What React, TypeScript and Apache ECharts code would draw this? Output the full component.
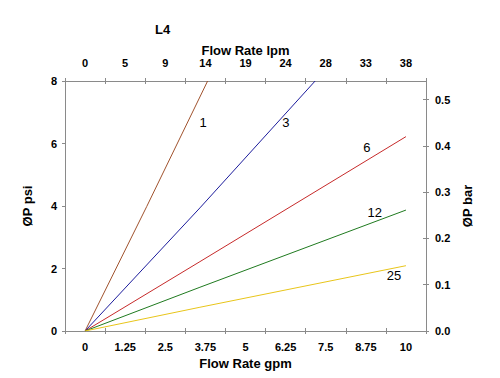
import React, { useEffect, useRef } from "react";
import * as echarts from "echarts";

const bottomTicks = ["0", "1.25", "2.5", "3.75", "5", "6.25", "7.5", "8.75", "10"];
const topTicks = ["0", "5", "9", "14", "19", "24", "28", "33", "38"];

const seriesNames = ["1", "3", "6", "12", "25"];
const seriesColors = ["#A0522D", "#1C1C9C", "#C62A2A", "#1F7A1F", "#E8C51A"];
const s1: number[][] = [[0, 0], [1.92, 3.98], [3.82, 8.0]];
const s3: number[][] = [[0, 0], [3.58, 3.94], [7.17, 8.0]];
const s6: number[][] = [[0, 0], [3.58, 2.22], [10, 6.22]];
const s12: number[][] = [[0, 0], [3.58, 1.4], [10, 3.87]];
const s25: number[][] = [[0, 0], [3.58, 0.76], [10, 2.09]];
const seriesData = [s1, s3, s6, s12, s25];
const labelPos: number[][] = [[3.68, 6.66], [6.26, 6.66], [8.78, 5.86], [9.03, 3.78], [9.63, 1.79]];

const AX = "#8a8a8a";
const FONT = "Liberation Sans, Arial, sans-serif";

export default function App() {
  const ref = useRef<HTMLDivElement>(null);
  useEffect(() => {
    document.body.style.margin = "0";
    const chart = echarts.init(ref.current!, null, { renderer: "svg" });
    const lbl = { color: "#000", fontWeight: "bold" as const, fontSize: 11, fontFamily: FONT };
    const catAxis = (pos: string, data: string[], withLabels: boolean, inside: boolean, extra: any = {}) => ({
      type: "category",
      position: pos,
      data,
      boundaryGap: true,
      axisLine: { show: withLabels, onZero: false, lineStyle: { color: AX } },
      axisTick: { show: true, inside, length: 3, lineStyle: { color: AX } },
      axisLabel: { show: withLabels, ...lbl, margin: 10, interval: 0 },
      splitLine: { show: false },
      ...extra,
    });
    chart.setOption({
      animation: false,
      backgroundColor: "#fff",
      title: {
        text: "L4",
        left: 150,
        top: 18,
        textStyle: { fontSize: 13, fontWeight: "bold", color: "#000", fontFamily: FONT },
      },
      grid: { left: 65, right: 74, top: 81, bottom: 47 },
      xAxis: [
        { type: "value", min: -0.625, max: 10.625, show: false, axisLine: { onZero: false } },
        catAxis("bottom", bottomTicks, true, false, {
          name: "Flow Rate gpm",
          nameLocation: "middle",
          nameGap: 24,
          nameTextStyle: { fontSize: 13, fontWeight: "bold", color: "#000", fontFamily: FONT },
        }),
        catAxis("bottom", bottomTicks, false, true),
        catAxis("top", topTicks, true, true, {
          axisLabel: { show: true, ...lbl, margin: 13, interval: 0 },
          name: "Flow Rate lpm",
          nameLocation: "middle",
          nameGap: 24,
          nameMoveOverlap: false,
          nameTextStyle: { fontSize: 13, fontWeight: "bold", color: "#000", fontFamily: FONT },
        }),
        catAxis("top", topTicks, false, false),
      ],
      yAxis: [
        {
          type: "value",
          position: "left",
          min: 0,
          max: 8,
          interval: 2,
          axisLine: { show: true, onZero: false, lineStyle: { color: AX } },
          axisTick: { show: true, length: 3, lineStyle: { color: AX } },
          axisLabel: { ...lbl, margin: 8 },
          splitLine: { show: false },
          name: "ØP psi",
          nameLocation: "middle",
          nameRotate: 90,
          nameGap: 31,
          nameTextStyle: { fontSize: 13, fontWeight: "bold", color: "#000", fontFamily: FONT },
        },
        {
          type: "value",
          position: "right",
          min: 0,
          max: 0.54,
          interval: 0.1,
          axisLine: { show: true, onZero: false, lineStyle: { color: AX } },
          axisTick: { show: true, length: 3, lineStyle: { color: AX } },
          axisLabel: { ...lbl, margin: 9, showMaxLabel: false, formatter: (v: number) => v.toFixed(1) },
          splitLine: { show: false },
          name: "ØP bar",
          nameLocation: "middle",
          nameRotate: 90,
          nameGap: 30,
          nameTextStyle: { fontSize: 13, fontWeight: "bold", color: "#000", fontFamily: FONT },
        },
        {
          type: "value",
          position: "right",
          min: 0,
          max: 0.54,
          interval: 0.1,
          axisLine: { show: false, onZero: false },
          axisTick: { show: true, inside: true, length: 3, lineStyle: { color: AX } },
          axisLabel: { show: false, showMaxLabel: false },
          splitLine: { show: false },
        },
      ],
      series: seriesNames.map((n, i) => ({
        name: n,
        type: "line",
        xAxisIndex: 0,
        yAxisIndex: 0,
        data: seriesData[i],
        showSymbol: false,
        symbol: "none",
        lineStyle: { color: seriesColors[i], width: 1 },
        clip: true,
        markPoint: {
          symbol: "circle",
          symbolSize: 0,
          label: { show: true, position: "inside", formatter: n, color: "#000", fontSize: 13, fontFamily: FONT },
          data: [{ coord: labelPos[i] }],
        },
      })),
    });
    return () => chart.dispose();
  }, []);
  return <div ref={ref} style={{ width: 500, height: 378 }} />;
}
